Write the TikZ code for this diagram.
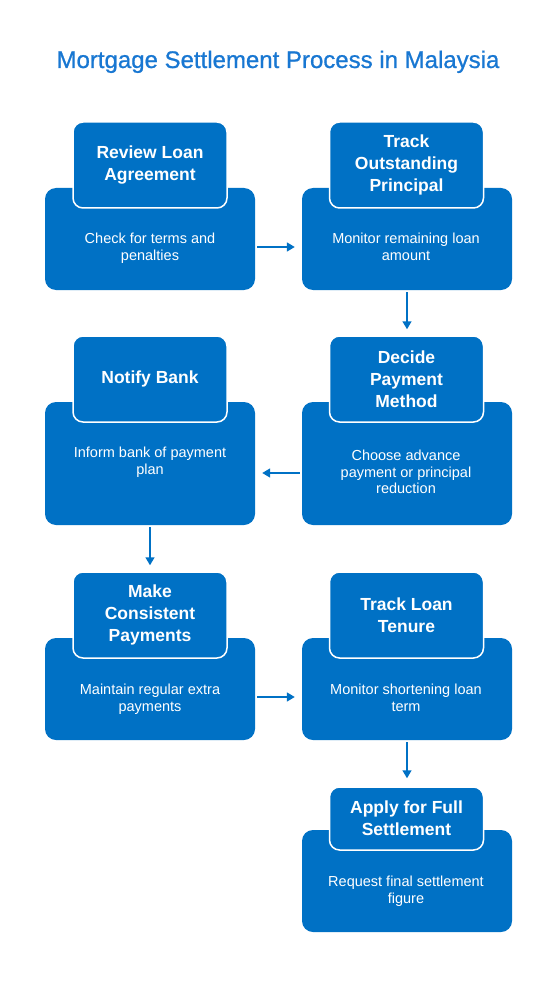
\documentclass[tikz,border=0pt]{standalone}
\usepackage{fontspec}
\setmainfont{Liberation Sans}
\newfontfamily\titlefont[FakeBold=0.8]{Liberation Sans}
\usetikzlibrary{arrows.meta,calc}
\definecolor{boxblue}{HTML}{0071C5}
\definecolor{titleblue}{HTML}{1877D2}
\begin{document}
\begin{tikzpicture}[x=1pt,y=-1pt,
  bigbox/.style={fill=boxblue, draw=none, rounded corners=11pt, minimum width=210pt, inner sep=0pt},
  headbox/.style={fill=boxblue, draw=white, line width=1.5pt, rounded corners=10pt, minimum width=154pt, inner sep=0pt, text=white, align=center, font=\fontsize{17.5}{22}\selectfont\bfseries},
  bodytext/.style={text=white, align=center, anchor=north, inner sep=0pt, font=\fontsize{14.5}{16.5}\selectfont},
  arr/.style={draw=boxblue, fill=boxblue, line width=1.5pt, -{Triangle[length=8pt,width=9pt]}},
]
\fill[white] (0,0) rectangle (557,1000);
\useasboundingbox (0,0) rectangle (557,1000);

\node[text=titleblue, font=\titlefont\fontsize{24}{28}\selectfont, anchor=base, inner sep=0pt] (title) at (278,68) {Mortgage Settlement Process in Malaysia};

% Row 1
\node[bigbox, minimum height=102pt] (b1) at (150,239) {};
\node[headbox, minimum height=86pt] (h1) at (150,165) {Review Loan\\Agreement};
\node[bodytext] (t1) at (150,233) {Check for terms and\\penalties};

\node[bigbox, minimum height=102pt] (b2) at (407,239) {};
\node[headbox, minimum height=86pt] (h2) at (406.5,165) {Track\\Outstanding\\Principal};
\node[bodytext] (t2) at (406,233) {Monitor remaining loan\\amount};

% Row 2
\node[bigbox, minimum height=123pt] (b3) at (150,463.5) {};
\node[headbox, minimum height=86pt] (h3) at (150,379) {Notify Bank};
\node[bodytext] (t3) at (150,447) {Inform bank of payment\\plan};

\node[bigbox, minimum height=123pt] (b4) at (407,463.5) {};
\node[headbox, minimum height=86pt] (h4) at (406.5,379) {Decide\\Payment\\Method};
\node[bodytext] (t4) at (406,450) {Choose advance\\payment or principal\\reduction};

% Row 3
\node[bigbox, minimum height=102pt] (b5) at (150,689) {};
\node[headbox, minimum height=86pt] (h5) at (150,615) {Make\\Consistent\\Payments};
\node[bodytext] (t5) at (150,684) {Maintain regular extra\\payments};

\node[bigbox, minimum height=102pt] (b6) at (407,689) {};
\node[headbox, minimum height=86pt] (h6) at (406.5,615) {Track Loan\\Tenure};
\node[bodytext] (t6) at (406,684) {Monitor shortening loan\\term};

% Row 4
\node[bigbox, minimum height=102pt] (b7) at (407,881) {};
\node[headbox, minimum height=63pt] (h7) at (406.5,818.5) {Apply for Full\\Settlement};
\node[bodytext] (t7) at (406,876) {Request final settlement\\figure};

% Connectors
\coordinate (m1) at (0,247);
\coordinate (m2) at (0,473);
\coordinate (m3) at (0,697);
\draw[arr, shorten <=2pt, shorten >=7pt] (b1.east |- m1) -- (b2.west |- m1);
\draw[arr, shorten <=2pt, shorten >=6pt] (b2.south) -- (b2.south |- h4.north);
\draw[arr, shorten <=2pt, shorten >=7pt] (b4.west |- m2) -- (b3.east |- m2);
\draw[arr, shorten <=2pt, shorten >=6pt] (b3.south) -- (b3.south |- h5.north);
\draw[arr, shorten <=2pt, shorten >=7pt] (b5.east |- m3) -- (b6.west |- m3);
\draw[arr, shorten <=2pt, shorten >=8pt] (b6.south) -- (b6.south |- h7.north);
\end{tikzpicture}
\end{document}
